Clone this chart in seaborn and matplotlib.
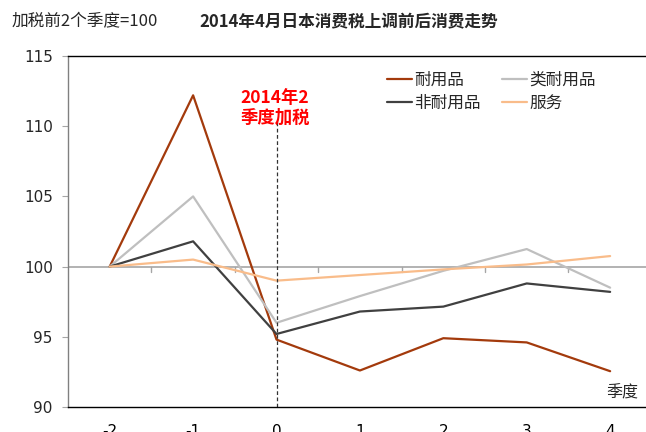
import matplotlib
matplotlib.use("Agg")
import matplotlib.pyplot as plt
import seaborn as sns
import pandas as pd

quarters = [-2, -1, 0, 1, 2, 3, 4]
durable = [100, 112.2, 94.8, 92.6, 94.9, 94.6, 92.55]
semi_durable = [100, 105.0, 96.0, 97.9, 99.7, 101.25, 98.5]
non_durable = [100, 101.8, 95.2, 96.8, 97.15, 98.8, 98.2]
services = [100, 100.5, 99.0, 99.4, 99.8, 100.15, 100.75]

series_names = ["耐用品", "类耐用品", "非耐用品", "服务"]
series_values = [durable, semi_durable, non_durable, services]
colors = ["#A33A0C", "#BFBFBF", "#404040", "#F9BC8A"]

rows = []
for name, vals in zip(series_names, series_values):
    for q, v in zip(quarters, vals):
        rows.append({"季度": q, "值": v, "系列": name})
df = pd.DataFrame(rows)

sns.set_theme(style="white")
plt.rcParams['font.family'] = ['Noto Sans CJK SC', 'DejaVu Sans']

fig = plt.figure(figsize=(6.46, 4.32), dpi=100)
ax = fig.add_axes([68/646, 1-407/432, 1-68/646, (407-56)/432])

sns.lineplot(data=df, x="季度", y="值", hue="系列", hue_order=series_names,
             palette=dict(zip(series_names, colors)), linewidth=1.6, ax=ax,
             legend=False)

ax.set_xlim(-2.5, 4.43)
ax.set_ylim(90, 115)
ax.set_xlabel("")
ax.set_ylabel("")

# reference line at 100 with ticks between categories
ax.axhline(100, color="#A6A6A6", linewidth=1.2, zorder=0)
for xm in [-1.5, -0.5, 0.5, 1.5, 2.5, 3.5]:
    ax.plot([xm, xm], [100, 99.6], color="#A6A6A6", linewidth=1.0, zorder=0)

ax.axvline(0, ymin=0, ymax=(110.4-90)/25, color="#333333", linestyle=(0, (3, 2)), linewidth=0.9)

ax.set_xticks(quarters)
ax.set_xticklabels([str(q) for q in quarters], family="DejaVu Sans", fontsize=11)
ax.set_yticks([90, 95, 100, 105, 110, 115])
ax.set_yticklabels(["90", "95", "100", "105", "110", "115"], family="DejaVu Sans", fontsize=11)
ax.tick_params(axis="x", length=0, pad=12, colors="black")
ax.tick_params(axis="y", length=4, width=0.8, color="#A6A6A6", pad=7, left=True)

ax.spines["right"].set_visible(False)
ax.spines["top"].set_color("black")
ax.spines["top"].set_linewidth(1.0)
ax.spines["bottom"].set_color("black")
ax.spines["bottom"].set_linewidth(1.0)
ax.spines["left"].set_color("#808080")
ax.spines["left"].set_linewidth(1.0)

# annotation
ax.text(-0.02, 111.3, "2014年2\n季度加税", color="#FF0000", fontsize=12.5, fontweight="bold",
        ha="center", va="center", linespacing=1.1)

# legend
from matplotlib.lines import Line2D
handles = [Line2D([0], [0], color=c, linewidth=1.6) for c in colors]
order = [0, 2, 1, 3]
leg = ax.legend([handles[i] for i in order], [series_names[i] for i in order],
                ncol=2, frameon=False, loc="upper left",
                bbox_to_anchor=(0.526, 0.997), handlelength=1.5, handletextpad=0.15,
                columnspacing=1.25, fontsize=12, labelspacing=0.35)

ax.text(4.34, 90.4, "季度", fontsize=11.5, ha="right", va="bottom")

fig.text(12/646, 1-22/432, "加税前2个季度=100", fontsize=12, ha="left", va="center")
fig.text(349/646, 1-22/432, "2014年4月日本消费税上调前后消费走势", fontsize=12,
         fontweight="bold", ha="center", va="center")

fig.savefig("out.png", dpi=100)
